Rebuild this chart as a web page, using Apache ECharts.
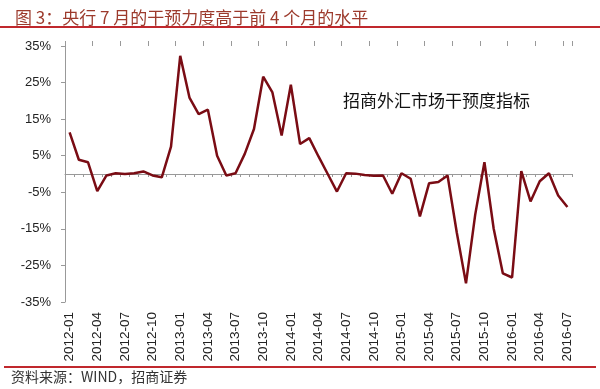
<!DOCTYPE html>
<html><head><meta charset="utf-8">
<script src="https://cdn.jsdelivr.net/npm/echarts@6/dist/echarts.min.js"></script>
<style>html,body{margin:0;padding:0;background:#fff}#c{width:600px;height:389px}</style>
</head><body><div id="c"></div>
<script>
const categories = (function(){const a=[];for(let y=2012;y<=2016;y++){for(let m=1;m<=12;m++){if(y===2016&&m>7)break;a.push(y+'-'+String(m).padStart(2,'0'));}}return a;})();
const interventionIndex = [11.4,3.9,3.2,-4.7,-0.4,0.2,0.0,0.2,0.7,-0.4,-0.9,7.5,
  32.3,20.9,16.4,17.6,5.0,-0.4,0.2,5.5,12.3,26.6,22.3,10.5,
  24.4,8.2,9.8,4.8,0.0,-4.8,0.2,0.1,-0.3,-0.5,-0.4,-5.4,
  0.2,-1.3,-11.6,-2.5,-2.2,-0.4,-16.0,-29.9,-11.1,3.2,-14.9,-27.2,
  -28.3,0.8,-7.5,-2.0,0.2,-5.9,-9.0];
const yTicks = [-35,-25,-15,-5,5,15,25,35];
const titleText = '图 3：央行 7 月的干预力度高于前 4 个月的水平';
const seriesName = '招商外汇市场干预度指标';
const sourceText = '资料来源：WIND，招商证券';

const chart = echarts.init(document.getElementById('c'), null, {renderer:'canvas'});
chart.setOption({
  animation:false,
  backgroundColor:'#fff',
  title:{text:titleText,left:10,top:4,textStyle:{color:'#9c3a2c',fontSize:17,fontWeight:'normal',fontFamily:'Noto Sans CJK SC'}},
  graphic:[
    {type:'rect',shape:{x:0,y:26,width:600,height:2},style:{fill:'#c0282d'}},
    {type:'rect',shape:{x:4,y:366,width:592,height:2},style:{fill:'#c0282d'}},
    {type:'text',left:11,top:370,style:{text:sourceText,fill:'#333',fontSize:14,fontFamily:'Noto Sans CJK SC'}},
    {type:'text',left:343,top:92,style:{text:seriesName,fill:'#111',fontSize:17,fontFamily:'Noto Sans CJK SC'}}
  ],
  grid:{left:65,right:28,top:46,bottom:87},
  xAxis:[
    {type:'category',data:categories,boundaryGap:true,position:'bottom',
     axisLine:{show:false,onZero:false},axisTick:{show:false},splitLine:{show:false},
     axisLabel:{interval:2,rotate:90,margin:10,color:'#222',fontSize:13.5,fontFamily:'Liberation Sans'}},
    {type:'category',data:categories,boundaryGap:true,
     axisLine:{show:true,onZero:true,lineStyle:{color:'#999',width:1}},
     axisTick:{show:true,interval:0,inside:true,length:3,lineStyle:{color:'#999'}},
     axisLabel:{show:false},splitLine:{show:false}},
    {type:'category',data:categories,boundaryGap:true,
     axisLine:{show:false,onZero:true},
     axisTick:{show:true,interval:2,inside:false,length:5,lineStyle:{color:'#999'}},
     axisLabel:{show:false},splitLine:{show:false}}
  ],
  yAxis:{type:'value',min:-35,max:35,interval:10,
    axisLine:{show:true,lineStyle:{color:'#999'}},
    axisTick:{show:true,length:4,lineStyle:{color:'#999'}},
    splitLine:{show:false},
    axisLabel:{formatter:v=>Math.round(v)+'%',color:'#222',fontSize:13,margin:14,fontFamily:'Liberation Sans'}},
  series:[{name:seriesName,type:'line',data:interventionIndex,xAxisIndex:0,symbol:'none',
    lineStyle:{color:'#7a0c14',width:2.5}}]
});
</script></body></html>
